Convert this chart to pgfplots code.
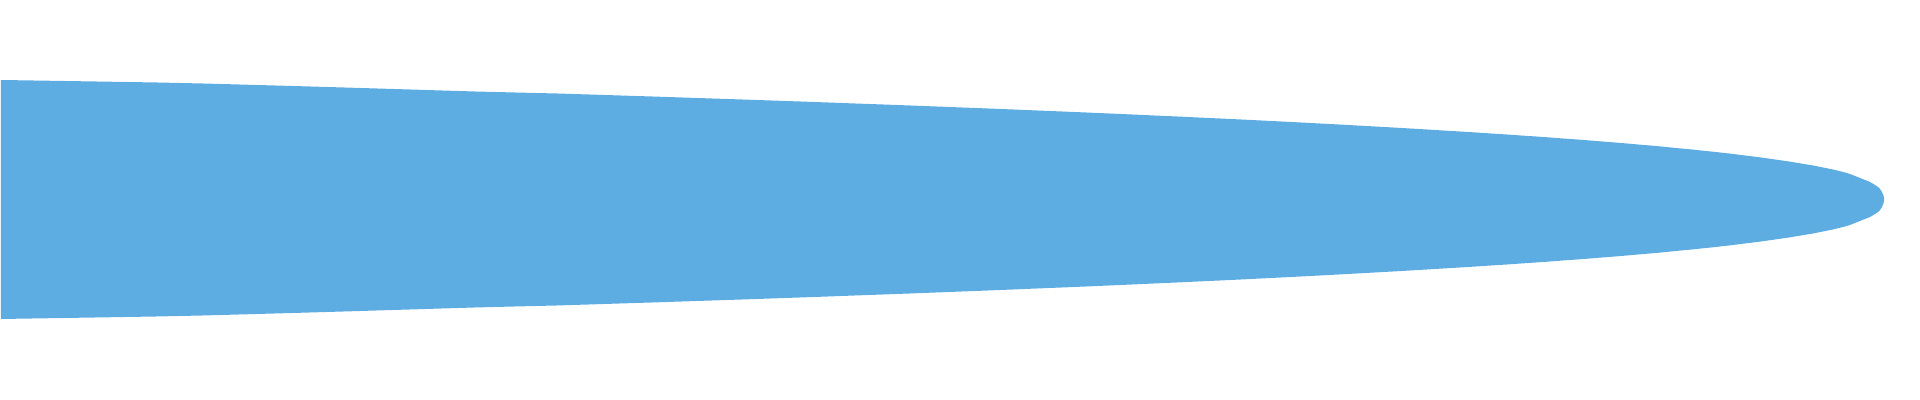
\documentclass[border=0pt]{standalone}
\usepackage{pgfplots}
\pgfplotsset{compat=1.18}
\definecolor{shape}{HTML}{5DACE2}
\begin{document}
\begin{tikzpicture}
\begin{axis}[
  scale only axis, width=19.2cm, height=4cm,
  xmin=0, xmax=1920, ymin=-200.5, ymax=199.5,
  hide axis, clip=false,
]
\addplot[fill=shape, draw=none] coordinates {
(1,119.5) (33,119) (96,118) (157,117) (203,116) (239,115) (275,114) (310,113)
(344,112) (377,111) (410,110) (442,109) (475,108) (515,107) (557,106) (589,105)
(620,104) (652,103) (682,102) (712,101) (742,100) (771,99) (800,98) (828,97)
(855,96) (883,95) (910,94) (936,93) (962,92) (988,91) (1013,90) (1037,89)
(1062,88) (1086,87) (1109,86) (1132,85) (1154,84) (1177,83) (1198,82) (1220,81)
(1241,80) (1261,79) (1281,78) (1301,77) (1320,76) (1339,75) (1357,74) (1375,73)
(1393,72) (1410,71) (1427,70) (1443,69) (1460,68) (1476,67) (1491,66) (1507,65)
(1521,64) (1536,63) (1550,62) (1563,61) (1577,60) (1590,59) (1602,58) (1615,57)
(1627,56) (1638,55) (1650,54) (1661,53) (1671,52) (1681,51) (1692,50) (1701,49)
(1711,48) (1720,47) (1729,46) (1737,45) (1745,44) (1753,43) (1761,42) (1768,41)
(1775,40) (1782,39) (1789,38) (1795,37) (1801,36) (1807,35) (1813,34) (1818,33)
(1823,32) (1828,31) (1833,30) (1837,29) (1841,28) (1845,27) (1850,25.5) (1855,23.5)
(1860,21.5) (1865,19.5) (1870,17.5) (1875,14.5) (1878,12.5) (1880,10.5) (1882,7.5)
(1883,5) (1883.8,2.5) (1884.2,0)
(1883.8,-2.5) (1883,-5) (1882,-7.5) (1880,-10.5) (1878,-12.5) (1875,-14.5) (1870,-17.5)
(1865,-19.5) (1860,-21.5) (1855,-23.5) (1850,-25.5) (1845,-27) (1841,-28) (1837,-29)
(1833,-30) (1828,-31) (1823,-32) (1818,-33) (1813,-34) (1807,-35) (1801,-36) (1795,-37)
(1789,-38) (1782,-39) (1775,-40) (1768,-41) (1761,-42) (1753,-43) (1745,-44) (1737,-45)
(1729,-46) (1720,-47) (1711,-48) (1701,-49) (1692,-50) (1681,-51) (1671,-52) (1661,-53)
(1650,-54) (1638,-55) (1627,-56) (1615,-57) (1602,-58) (1590,-59) (1577,-60) (1563,-61)
(1550,-62) (1536,-63) (1521,-64) (1507,-65) (1491,-66) (1476,-67) (1460,-68) (1443,-69)
(1427,-70) (1410,-71) (1393,-72) (1375,-73) (1357,-74) (1339,-75) (1320,-76) (1301,-77)
(1281,-78) (1261,-79) (1241,-80) (1220,-81) (1198,-82) (1177,-83) (1154,-84) (1132,-85)
(1109,-86) (1086,-87) (1062,-88) (1037,-89) (1013,-90) (988,-91) (962,-92) (936,-93)
(910,-94) (883,-95) (855,-96) (828,-97) (800,-98) (771,-99) (742,-100) (712,-101)
(682,-102) (652,-103) (620,-104) (589,-105) (557,-106) (515,-107) (475,-108) (442,-109)
(410,-110) (377,-111) (344,-112) (310,-113) (275,-114) (239,-115) (203,-116) (157,-117)
(96,-118) (33,-119) (1,-119.5)
} -- cycle;
\addplot[draw=none, forget plot] coordinates {(0,-200.5) (1920,199.5)};
\end{axis}
\end{tikzpicture}
\end{document}
